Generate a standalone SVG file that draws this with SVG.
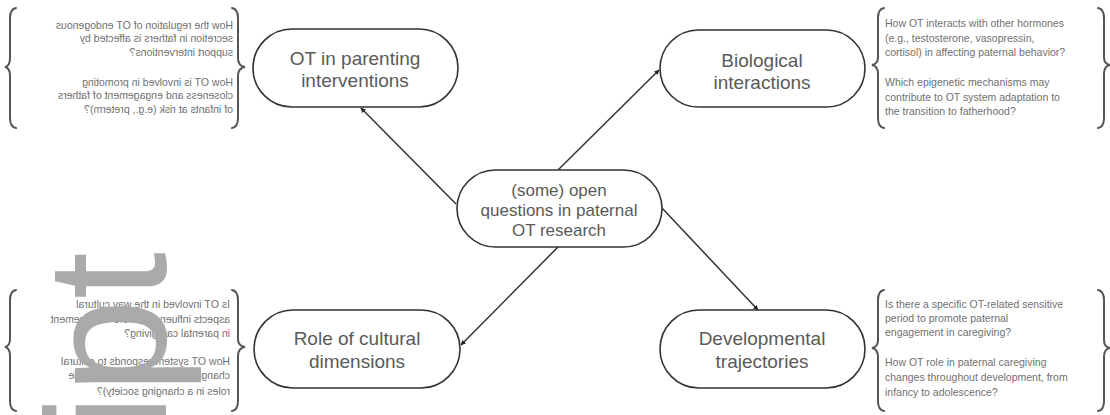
<svg xmlns="http://www.w3.org/2000/svg" width="1110" height="415" viewBox="0 0 1110 415">
<style>
.node{fill:#fff;stroke:#333;stroke-width:1.6}
.nt{font-family:"Liberation Sans",Arial,sans-serif;font-size:19px;fill:#5a5a5a;text-anchor:middle}
.ct{font-family:"Liberation Sans",Arial,sans-serif;font-size:17px;fill:#5a5a5a;text-anchor:middle}
.q{font-family:"Liberation Sans",Arial,sans-serif;font-size:10.5px;fill:#707070}
.br{fill:none;stroke:#555;stroke-width:2;stroke-linecap:round}
.edge{stroke:#333;stroke-width:1.5;fill:none}
.wm{font-family:"Liberation Sans",Arial,sans-serif;font-size:170px;fill:#aaa;text-anchor:end}
</style>
<defs>
<marker id="ah" viewBox="0 0 10 10" refX="9" refY="5" markerWidth="5" markerHeight="5" markerUnits="userSpaceOnUse" orient="auto">
<path d="M0,0 L10,5 L0,10 z" fill="#222"/>
</marker>
</defs>
<rect width="1110" height="415" fill="#fff"/>

<g id="connectors">
<line class="edge" x1="456" y1="204" x2="361" y2="108" marker-end="url(#ah)"/>
<line class="edge" x1="558" y1="170" x2="659" y2="70" marker-end="url(#ah)"/>
<line class="edge" x1="662" y1="208" x2="758" y2="310" marker-end="url(#ah)"/>
<line class="edge" x1="558" y1="247" x2="461" y2="345" marker-end="url(#ah)"/>
</g>

<g id="node-center">
<rect class="node" x="457" y="170" width="205" height="77" rx="38.5"/>
<text class="ct" x="559" y="196">(some) open</text>
<text class="ct" x="559" y="216">questions in paternal</text>
<text class="ct" x="559" y="236">OT research</text>
</g>

<g id="node-parenting">
<rect class="node" x="253" y="29" width="205" height="78" rx="39"/>
<text class="nt" x="355" y="65">OT in parenting</text>
<text class="nt" x="355" y="87">interventions</text>
</g>

<g id="node-biological">
<rect class="node" x="660" y="30" width="205" height="77" rx="38.5"/>
<text class="nt" x="762" y="67">Biological</text>
<text class="nt" x="762" y="89">interactions</text>
</g>

<g id="node-cultural">
<rect class="node" x="254" y="310" width="206" height="78" rx="39"/>
<text class="nt" x="357" y="345">Role of cultural</text>
<text class="nt" x="357" y="368">dimensions</text>
</g>

<g id="node-developmental">
<rect class="node" x="660" y="310" width="205" height="78" rx="39"/>
<text class="nt" x="762" y="345">Developmental</text>
<text class="nt" x="762" y="368">trajectories</text>
</g>

<g id="questions-parenting">
<path class="br" d="M16,8 Q10,9 10,18 L10,58 Q10,66 5,67 Q10,68 10,76 L10,118 Q10,127 16,128"/>
<path class="br" d="M232,8 Q238,9 238,18 L238,58 Q238,66 245,67 Q238,68 238,76 L238,118 Q238,127 232,128"/>
<g transform="translate(233,0) scale(-1,1)">
<text class="q" x="0" y="29">How the regulation of OT endogenous</text>
<text class="q" x="0" y="42">secretion in fathers is affected by</text>
<text class="q" x="0" y="56">support interventions?</text>
<text class="q" x="0" y="86">How OT is involved in promoting</text>
<text class="q" x="0" y="99">closeness and engagement of fathers</text>
<text class="q" x="0" y="113">of infants at risk (e.g., preterm)?</text>
</g>
</g>

<g id="questions-biological">
<path class="br" d="M884,8 Q878,9 878,18 L878,57 Q878,64 872,65 Q878,66 878,74 L878,118 Q878,127 884,128"/>
<path class="br" d="M1098,8 Q1104,9 1104,18 L1104,57 Q1104,64 1110,65 Q1104,66 1104,74 L1104,118 Q1104,127 1098,128"/>
<text class="q" x="885" y="27">How OT interacts with other hormones</text>
<text class="q" x="885" y="42">(e.g., testosterone, vasopressin,</text>
<text class="q" x="885" y="56">cortisol) in affecting paternal behavior?</text>
<text class="q" x="885" y="86">Which epigenetic mechanisms may</text>
<text class="q" x="885" y="101">contribute to OT system adaptation to</text>
<text class="q" x="885" y="115">the transition to fatherhood?</text>
</g>

<g id="questions-developmental">
<path class="br" d="M884,290 Q878,291 878,300 L878,340 Q878,347 872,348 Q878,349 878,357 L878,401 Q878,410 884,411"/>
<path class="br" d="M1098,290 Q1104,291 1104,300 L1104,340 Q1104,347 1110,348 Q1104,349 1104,357 L1104,401 Q1104,410 1098,411"/>
<text class="q" x="885" y="308">Is there a specific OT-related sensitive</text>
<text class="q" x="885" y="322">period to promote paternal</text>
<text class="q" x="885" y="336">engagement in caregiving?</text>
<text class="q" x="885" y="366">How OT role in paternal caregiving</text>
<text class="q" x="885" y="381">changes throughout development, from</text>
<text class="q" x="885" y="396">infancy to adolescence?</text>
</g>

<g id="questions-cultural">
<path class="br" d="M16,290 Q10,291 10,300 L10,339 Q10,346 5,347 Q10,348 10,356 L10,401 Q10,410 16,411"/>
<path class="br" d="M232,290 Q238,291 238,300 L238,339 Q238,346 245,347 Q238,348 238,356 L238,401 Q238,410 232,411"/>
<g transform="translate(230,0) scale(-1,1)">
<text class="q" x="0" y="308">Is OT involved in the way cultural</text>
<text class="q" x="0" y="323">aspects influence fathers' engagement</text>
<text class="q" x="0" y="337">in parental caregiving?</text>
<text class="q" x="0" y="365">How OT system responds to cultural</text>
<text class="q" x="0" y="379">changes in fatherhood (e.g., stable</text>
<text class="q" x="0" y="395">roles in a changing society)?</text>
</g>
</g>

<text class="wm" transform="translate(166,252) rotate(-90)">Author Manuscript</text>
</svg>
